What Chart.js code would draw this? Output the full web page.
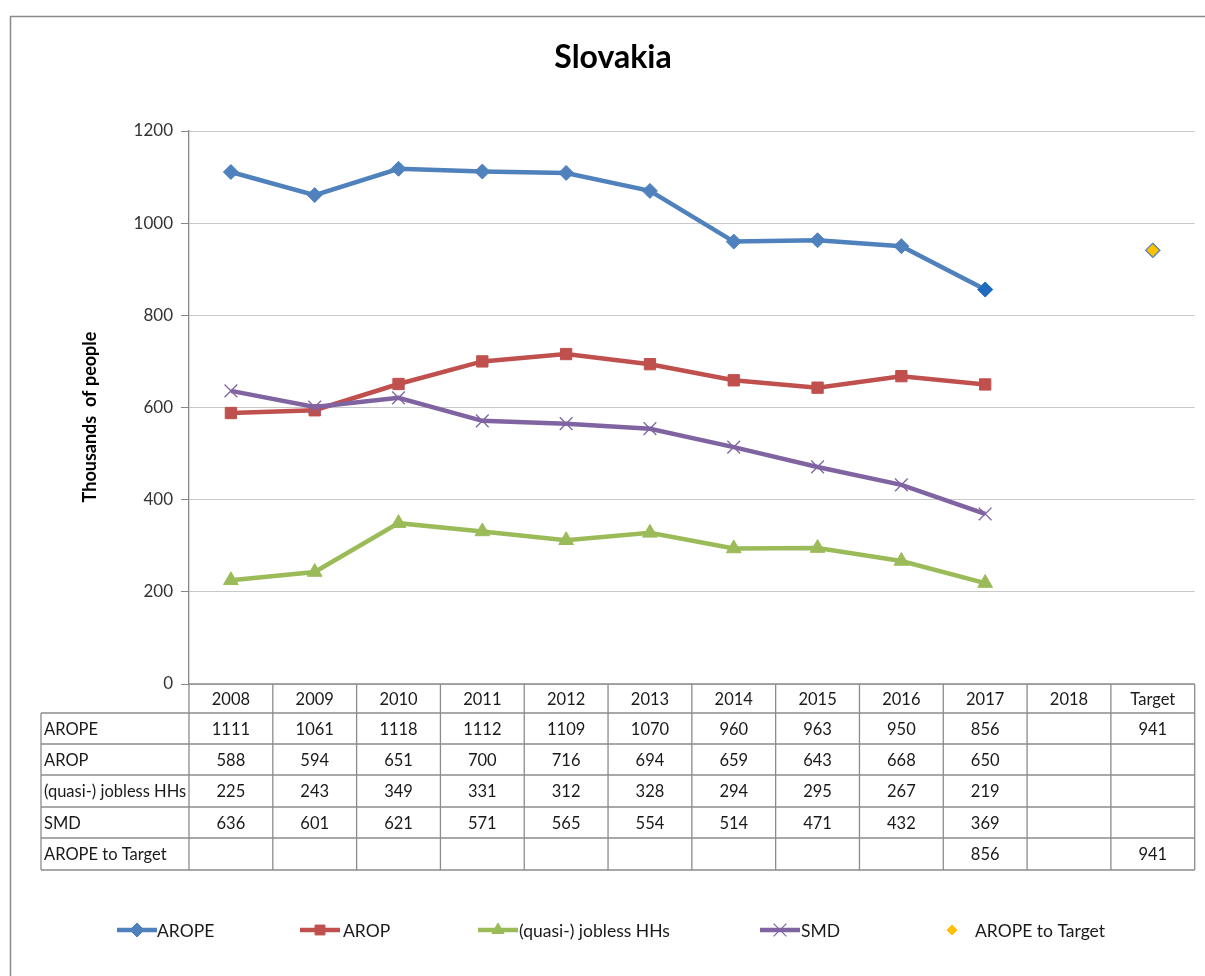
<!DOCTYPE html>
<html>
<head>
<meta charset="utf-8">
<script src="https://cdn.jsdelivr.net/npm/chart.js@4.4.1/dist/chart.umd.min.js"></script>
<style>
html,body{margin:0;padding:0;background:#fff;}
canvas{display:block;}
</style>
</head>
<body>
<canvas id="c" width="1205" height="976"></canvas>
<script>
const categories = ['2008','2009','2010','2011','2012','2013','2014','2015','2016','2017','2018','Target'];
const arope   = [1111,1061,1118,1112,1109,1070,960,963,950,856,null,941];
const arop    = [588,594,651,700,716,694,659,643,668,650,null,null];
const jobless = [225,243,349,331,312,328,294,295,267,219,null,null];
const smd     = [636,601,621,571,565,554,514,471,432,369,null,null];
const aropeToTarget = [null,null,null,null,null,null,null,null,null,856,null,941];
const seriesNames = ['AROPE','AROP','(quasi-) jobless HHs','SMD','AROPE to Target'];
const yTicks = [0,200,400,600,800,1000,1200];
const chartTitle = 'Slovakia';
const yAxisTitle = 'Thousands  of people';

const FONT = 'Lato';
const colors = ['#4F81BD','#C0504D','#9BBB59','#8064A2','#FFC000'];
const styles = ['rectRot','rect','triangle','crossRot','rectRot'];

const tablePlugin = {
  id: 'tablePlugin',
  afterDraw(chart){
    const ctx = chart.ctx;
    const xs = chart.scales.x;
    const area = chart.chartArea;
    ctx.save();
    // outer frame
    ctx.strokeStyle = '#8a8a8a';
    ctx.lineWidth = 1.5;
    ctx.strokeRect(10.5, 16.5, 1400, 1200);
    // title
    ctx.fillStyle = '#000';
    ctx.font = 'bold 32px ' + FONT;
    ctx.textAlign = 'center';
    ctx.textBaseline = 'middle';
    ctx.fillText(chartTitle, 613, 58);
    // y axis title
    ctx.save();
    ctx.translate(90, 417);
    ctx.rotate(-Math.PI/2);
    ctx.font = 'bold 18px ' + FONT;
    ctx.fillText(yAxisTitle, 0, 0);
    ctx.restore();

    // table
    const rowTops = [684, 713, 744, 775, 807, 838, 870];
    const labelLeft = 41;
    const half = (xs.getPixelForValue(1) - xs.getPixelForValue(0)) / 2;
    const colEdges = categories.map((c,i)=> xs.getPixelForValue(i) - half);
    colEdges.push(xs.getPixelForValue(categories.length-1) + half);
    ctx.strokeStyle = '#8c8c8c';
    ctx.lineWidth = 1.3;
    ctx.beginPath();
    ctx.moveTo(area.left, rowTops[0]); ctx.lineTo(area.right, rowTops[0]);
    for (let r = 1; r < rowTops.length; r++) {
      ctx.moveTo(labelLeft, rowTops[r]); ctx.lineTo(area.right, rowTops[r]);
    }
    colEdges.forEach(x => { ctx.moveTo(x, rowTops[0]); ctx.lineTo(x, rowTops[rowTops.length-1]); });
    ctx.moveTo(labelLeft, rowTops[1]); ctx.lineTo(labelLeft, rowTops[rowTops.length-1]);
    ctx.stroke();

    ctx.fillStyle = '#1a1a1a';
    ctx.font = '16.5px ' + FONT;
    ctx.textBaseline = 'middle';
    ctx.textAlign = 'center';
    categories.forEach((c,i)=>{
      ctx.fillText(c, xs.getPixelForValue(i), (rowTops[0]+rowTops[1])/2 + 1);
    });
    chart.data.datasets.forEach((ds, r)=>{
      const cy = (rowTops[r+1]+rowTops[r+2])/2 + 1;
      ctx.textAlign = 'left';
      ctx.fillText(ds.label, labelLeft + 3, cy);
      ctx.textAlign = 'center';
      ds.data.forEach((v,i)=>{
        if (v !== null && v !== undefined) ctx.fillText(String(v), xs.getPixelForValue(i), cy);
      });
    });

    // legend
    const legendY = 930;
    const items = [
      {x: 117, tx: 157},
      {x: 300, tx: 343},
      {x: 478, tx: 519},
      {x: 760, tx: 801},
      {x: 932, tx: 975}
    ];
    chart.data.datasets.forEach((ds, i)=>{
      const it = items[i];
      if (ds.showLine !== false) {
        ctx.strokeStyle = ds.borderColor;
        ctx.lineWidth = 4.5;
        ctx.beginPath();
        ctx.moveTo(it.x, legendY); ctx.lineTo(it.x + 40, legendY);
        ctx.stroke();
        ctx.fillStyle = ds.borderColor;
        ctx.strokeStyle = ds.borderColor;
        ctx.lineWidth = styles[i]==='crossRot' ? 1.2 : 1;
        Chart.helpers.drawPoint(ctx, {pointStyle: styles[i], radius: styles[i]==='crossRot'?9:7, rotation:0, borderWidth:1}, it.x + 20, legendY);
      } else {
        ctx.fillStyle = colors[4];
        ctx.strokeStyle = colors[4];
        ctx.lineWidth = 1;
        Chart.helpers.drawPoint(ctx, {pointStyle: 'rectRot', radius: 5, rotation:0, borderWidth:1}, it.x + 20, legendY);
      }
      ctx.fillStyle = '#1a1a1a';
      ctx.font = '17.5px ' + FONT;
      ctx.textAlign = 'left';
      ctx.textBaseline = 'middle';
      ctx.fillText(ds.label, it.tx, legendY + 1);
    });
    ctx.restore();
  }
};

function lineDs(label, data, i, radius){
  return {
    label, data,
    borderColor: colors[i], backgroundColor: colors[i],
    borderWidth: 4.5, tension: 0,
    pointStyle: styles[i], pointRadius: radius,
    pointBackgroundColor: colors[i], pointBorderColor: colors[i],
    pointBorderWidth: styles[i]==='crossRot' ? 1.3 : 1,
    spanGaps: false, order: 5 - i
  };
}

const artColors = aropeToTarget.map((v,i)=> i === categories.length-1 ? '#FFC000' : '#1F6BBF');

new Chart(document.getElementById('c'), {
  type: 'line',
  data: {
    labels: categories,
    datasets: [
      lineDs(seriesNames[0], arope, 0, 7.5),
      lineDs(seriesNames[1], arop, 1, 8),
      lineDs(seriesNames[2], jobless, 2, 8.5),
      lineDs(seriesNames[3], smd, 3, 9),
      {
        label: seriesNames[4], data: aropeToTarget,
        showLine: false, pointStyle: 'rectRot',
        pointRadius: aropeToTarget.map((v,i)=> i === categories.length-1 ? 6 : 7.5),
        pointBackgroundColor: artColors,
        pointBorderColor: artColors,
        pointBorderWidth: 0.5, borderColor: colors[4], backgroundColor: colors[4],
        order: 0
      }
    ]
  },
  options: {
    responsive: false,
    animation: false,
    events: [],
    layout: { padding: { left: 0, top: 131, right: 6, bottom: 292 } },
    plugins: { legend: { display: false }, title: { display: false }, tooltip: { enabled: false } },
    scales: {
      x: { type: 'category', offset: true, display: false },
      y: {
        min: 0, max: 1200,
        afterBuildTicks(scale){ scale.ticks = yTicks.map(v => ({value: v})); },
        afterFit(scale){ scale.width = 189; },
        ticks: { color: '#333', font: { family: FONT, size: 17 }, padding: 8, callback: v => String(v) },
        grid: { color: '#c8c8c8', lineWidth: 1, tickLength: 8, tickColor: '#888' },
        border: { color: '#888', width: 1.3 }
      }
    }
  },
  plugins: [tablePlugin]
});
</script>
</body>
</html>
